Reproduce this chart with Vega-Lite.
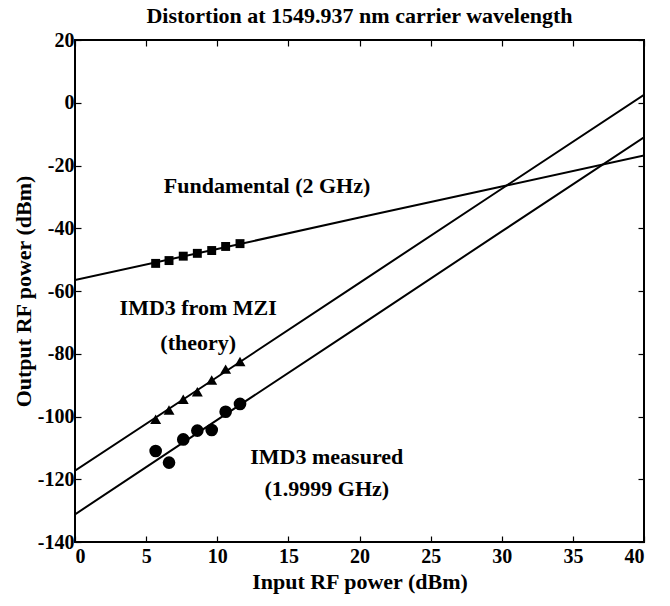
{
  "$schema": "https://vega.github.io/schema/vega-lite/v6.json",
  "width": 569,
  "height": 502,
  "autosize": {"type": "none"},
  "padding": {"left": 75, "top": 40, "right": 26, "bottom": 64},
  "background": "white",
  "config": {
    "font": "Liberation Serif",
    "view": {"stroke": "black", "strokeWidth": 2},
    "axis": {"labelFont": "Liberation Serif", "labelFontWeight": "bold", "labelFontSize": 20, "labelColor": "black", "titleFont": "Liberation Serif", "titleFontWeight": "bold", "titleFontSize": 22, "titleColor": "black", "domain": false, "grid": false, "tickColor": "black", "tickWidth": 1.2}
  },
  "title": {"text": "Distortion at 1549.937 nm carrier wavelength", "font": "Liberation Serif", "fontWeight": "bold", "fontSize": 22, "color": "black", "offset": 2},
  "datasets": {
    "lines": [
      {"series": "Fundamental", "x": 0, "y": -56.5},
      {"series": "Fundamental", "x": 10, "y": -46.6},
      {"series": "Fundamental", "x": 20, "y": -36.6},
      {"series": "Fundamental", "x": 30, "y": -26.7},
      {"series": "Fundamental", "x": 40, "y": -16.8},
      {"series": "Theory", "x": 0, "y": -117.3},
      {"series": "Theory", "x": 10, "y": -87.4},
      {"series": "Theory", "x": 20, "y": -57.4},
      {"series": "Theory", "x": 30, "y": -27.4},
      {"series": "Theory", "x": 40, "y": 2.5},
      {"series": "Measured", "x": 0, "y": -131.2},
      {"series": "Measured", "x": 10, "y": -101.1},
      {"series": "Measured", "x": 20, "y": -71.1},
      {"series": "Measured", "x": 30, "y": -41},
      {"series": "Measured", "x": 40, "y": -11}
    ],
    "points": [
      {"series": "Fundamental", "x": 5.67, "y": -51.2},
      {"series": "Fundamental", "x": 6.61, "y": -50.3},
      {"series": "Fundamental", "x": 7.61, "y": -48.9},
      {"series": "Fundamental", "x": 8.6, "y": -48.0},
      {"series": "Fundamental", "x": 9.61, "y": -47.1},
      {"series": "Fundamental", "x": 10.59, "y": -45.8},
      {"series": "Fundamental", "x": 11.6, "y": -44.9},
      {"series": "Theory", "x": 5.67, "y": -100.9},
      {"series": "Theory", "x": 6.61, "y": -97.9},
      {"series": "Theory", "x": 7.61, "y": -94.5},
      {"series": "Theory", "x": 8.6, "y": -92.1},
      {"series": "Theory", "x": 9.61, "y": -88.4},
      {"series": "Theory", "x": 10.59, "y": -84.9},
      {"series": "Theory", "x": 11.6, "y": -82.5},
      {"series": "Measured", "x": 5.67, "y": -111},
      {"series": "Measured", "x": 6.61, "y": -114.7},
      {"series": "Measured", "x": 7.61, "y": -107.3},
      {"series": "Measured", "x": 8.6, "y": -104.5},
      {"series": "Measured", "x": 9.61, "y": -104.3},
      {"series": "Measured", "x": 10.59, "y": -98.5},
      {"series": "Measured", "x": 11.6, "y": -96}
    ],
    "labels": [
      {"text": "Fundamental (2 GHz)", "x": 13.5, "y": -26.5},
      {"text": "IMD3 from MZI", "x": 8.66, "y": -65.4},
      {"text": "(theory)", "x": 8.66, "y": -76.6},
      {"text": "IMD3 measured", "x": 17.7, "y": -113.0},
      {"text": "(1.9999 GHz)", "x": 17.7, "y": -123.0}
    ]
  },
  "resolve": {"axis": {"x": "independent", "y": "independent"}},
  "layer": [
    {
      "data": {"name": "lines"},
      "mark": {"type": "line", "color": "black", "strokeWidth": 2, "clip": true},
      "encoding": {
        "x": {"field": "x", "type": "quantitative", "scale": {"domain": [0, 40], "nice": false}, "axis": {"title": "Input RF power (dBm)", "values": [0,5,10,15,20,25,30,35,40], "labelExpr": "'' + datum.value", "tickSize": -6, "labelPadding": 10, "titlePadding": 5}},
        "y": {"field": "y", "type": "quantitative", "scale": {"domain": [-140, 20], "nice": false}, "axis": {"title": "Output RF power (dBm)", "values": [-140,-120,-100,-80,-60,-40,-20,0,20], "labelExpr": "'' + datum.value", "tickSize": -6, "labelPadding": 7, "titlePadding": 2}},
        "detail": {"field": "series"}
      }
    },
    {
      "data": {"name": "points"},
      "mark": {"type": "point", "filled": true, "color": "black", "opacity": 1},
      "encoding": {
        "x": {"field": "x", "type": "quantitative", "axis": {"orient": "top", "title": null, "labels": false, "values": [0,5,10,15,20,25,30,35,40], "tickSize": -6}},
        "y": {"field": "y", "type": "quantitative", "axis": {"orient": "right", "title": null, "labels": false, "values": [-140,-120,-100,-80,-60,-40,-20,0,20], "tickSize": -6}},
        "shape": {"field": "series", "type": "nominal", "scale": {"domain": ["Fundamental", "Theory", "Measured"], "range": ["square", "triangle-up", "circle"]}, "legend": null},
        "size": {"field": "series", "type": "nominal", "scale": {"domain": ["Fundamental", "Theory", "Measured"], "range": [80, 160, 100]}, "legend": null}
      }
    },
    {
      "data": {"name": "labels"},
      "mark": {"type": "text", "font": "Liberation Serif", "fontWeight": "bold", "fontSize": 22, "color": "black", "align": "center", "baseline": "middle"},
      "encoding": {
        "x": {"field": "x", "type": "quantitative", "axis": null},
        "y": {"field": "y", "type": "quantitative", "axis": null},
        "text": {"field": "text"}
      }
    }
  ]
}
